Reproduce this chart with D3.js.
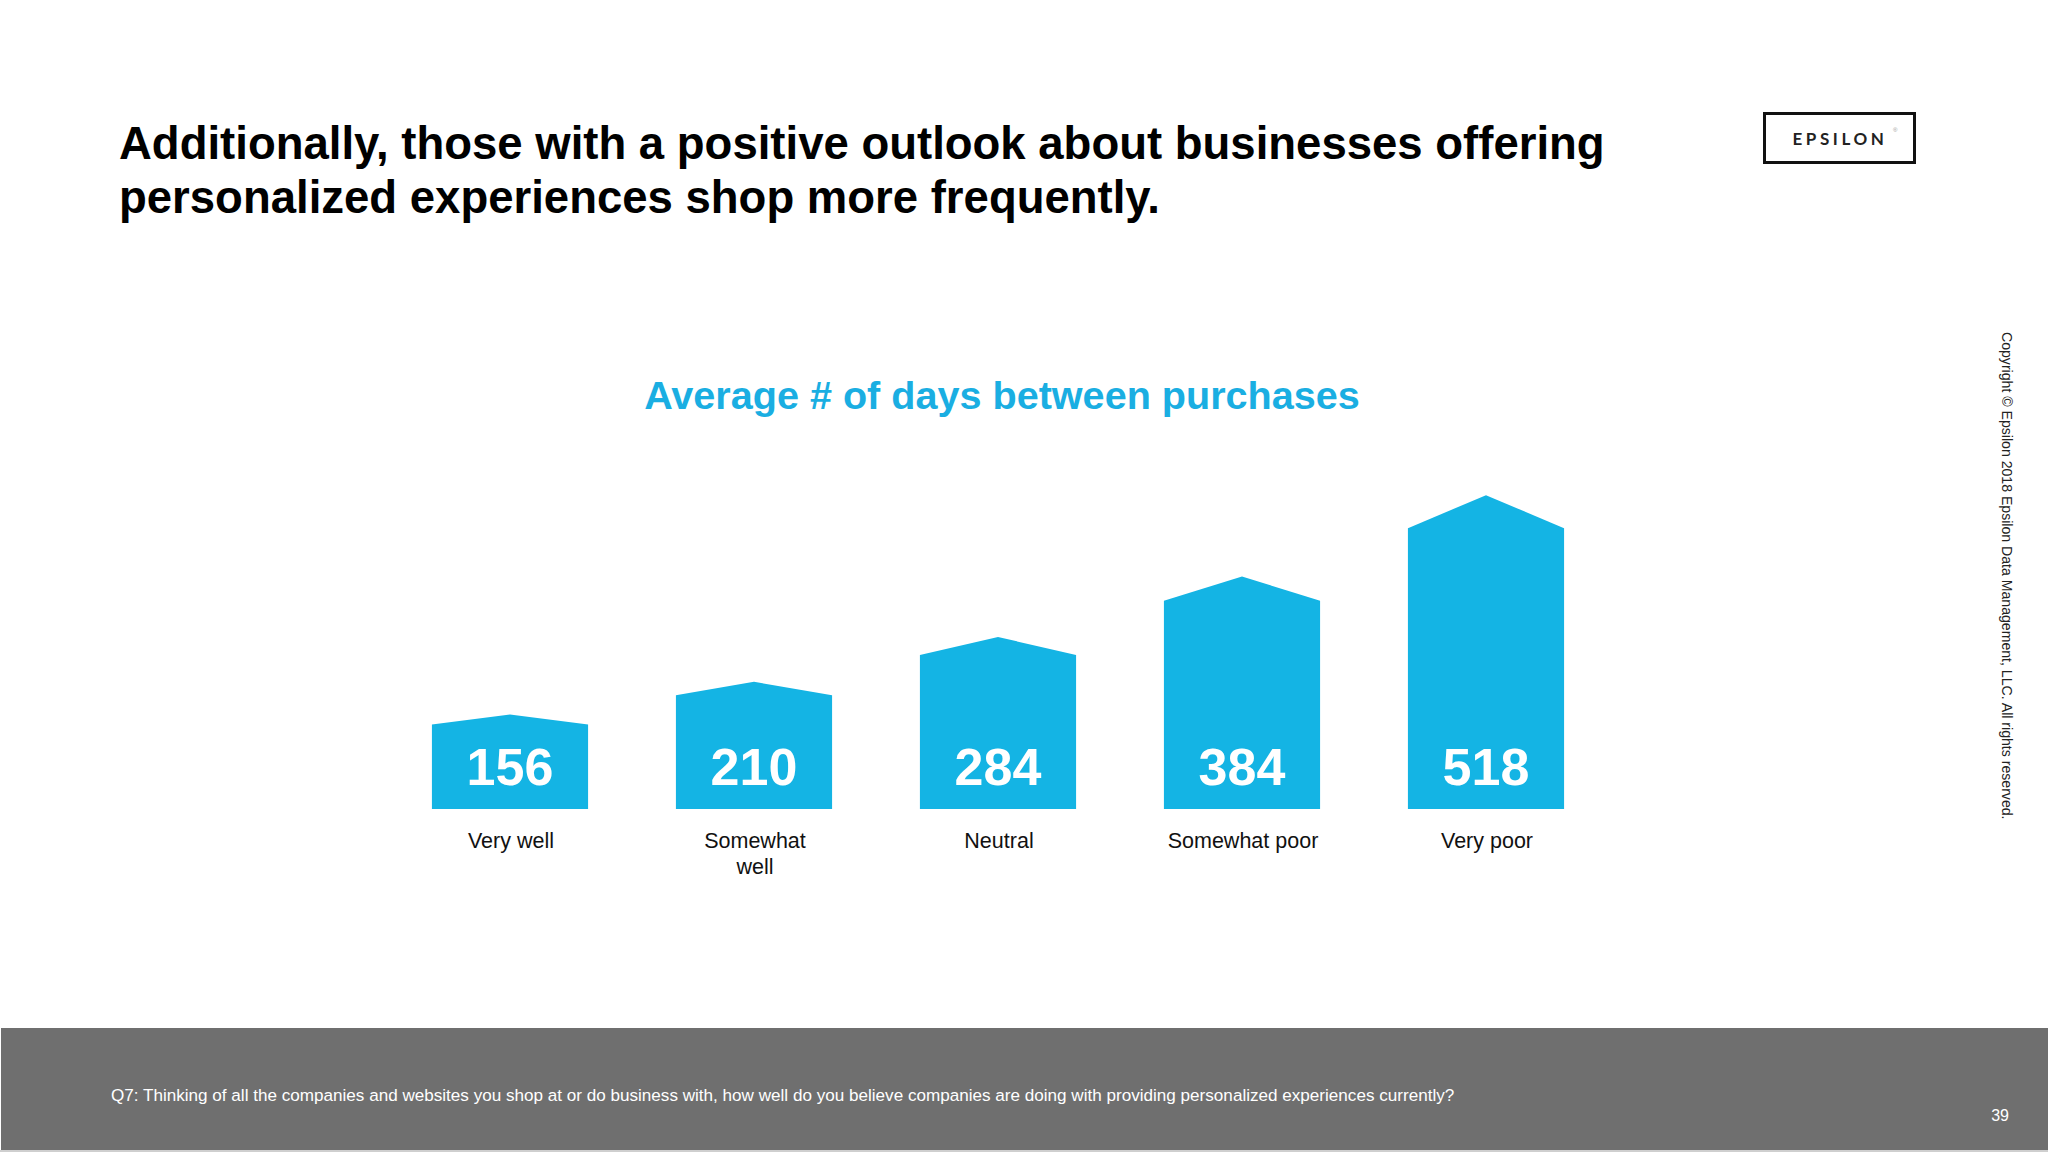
<!DOCTYPE html>
<html>
<head>
<meta charset="utf-8">
<script src="https://cdn.jsdelivr.net/npm/d3@7"></script>
<style>
  body { margin: 0; background: #fff; }
  svg { display: block; font-family: "Liberation Sans", Arial, sans-serif; }
</style>
</head>
<body>
<div class="svg-container"></div>
<script>
// data
var categories = ["Very well", "Somewhat well", "Neutral", "Somewhat poor", "Very poor"];
var labelLines = [["Very well"], ["Somewhat", "well"], ["Neutral"], ["Somewhat poor"], ["Very poor"]];
var avgDays = [156, 210, 284, 384, 518];

var titleLines = [
    "Additionally, those with a positive outlook about businesses offering",
    "personalized experiences shop more frequently."
];
var chartTitle = "Average # of days between purchases";
var footnote = "Q7: Thinking of all the companies and websites you shop at or do business with, how well do you believe companies are doing with providing personalized experiences currently?";
var copyright = "Copyright \u00a9 Epsilon 2018 Epsilon Data Management, LLC. All rights reserved.";
var pageNumber = "39";

var width = 2048,
    height = 1152;

var blue = "#14b4e4";

var svg = d3.select(".svg-container")
    .append("svg")
    .attr("width", width)
    .attr("height", height)
    .attr("viewBox", `0 0 ${width} ${height}`);

// headline
svg.append("text")
    .attr("x", 119)
    .attr("y", 159)
    .attr("font-size", 45.5)
    .attr("font-weight", "bold")
    .attr("fill", "#000")
    .selectAll("tspan")
    .data(titleLines)
    .enter().append("tspan")
        .attr("x", 119)
        .attr("dy", (d, i) => i == 0 ? 0 : 54)
        .text(d => d);

// logo
var logo = svg.append("g").attr("transform", "translate(1763, 112)");
logo.append("rect")
    .attr("x", 1.5)
    .attr("y", 1.5)
    .attr("width", 150)
    .attr("height", 49)
    .attr("fill", "none")
    .attr("stroke", "#111")
    .attr("stroke-width", 3);
logo.append("text")
    .attr("x", 77)
    .attr("y", 32.5)
    .attr("text-anchor", "middle")
    .attr("font-family", "Lato, 'Liberation Sans', sans-serif")
    .attr("font-weight", "bold")
    .attr("font-size", 17)
    .attr("letter-spacing", 3.6)
    .attr("fill", "#222")
    .text("EPSILON");
logo.append("text")
    .attr("x", 130)
    .attr("y", 20)
    .attr("font-size", 6)
    .attr("fill", "#999")
    .text("\u00ae");

// chart title
svg.append("text")
    .attr("x", 1002)
    .attr("y", 409)
    .attr("text-anchor", "middle")
    .attr("font-size", 39.6)
    .attr("font-weight", "bold")
    .attr("fill", "#1aaee2")
    .text(chartTitle);

// scales
var bottom = 809;

var xScale = d3.scaleBand()
    .domain(categories)
    .range([388, 1608])
    .paddingInner(0.36)
    .paddingOuter(0.18);

var yScale = d3.scaleLinear()
    .domain([0, 520])
    .range([bottom, 494]);

var roofShare = 0.105;

function housePath(d, i) {
    var x0 = xScale(categories[i]),
        x1 = x0 + xScale.bandwidth(),
        cx = x0 + xScale.bandwidth() / 2,
        peak = yScale(d),
        shoulder = peak + (bottom - peak) * roofShare;
    return d3.line()([[x0, bottom], [x0, shoulder], [cx, peak], [x1, shoulder], [x1, bottom]]) + "Z";
}

var bars = svg.append("g").attr("class", "bars");

bars.selectAll("path")
    .data(avgDays)
    .enter().append("path")
    .attr("d", housePath)
    .attr("fill", blue);

bars.selectAll(".value")
    .data(avgDays)
    .enter().append("text")
    .attr("class", "value")
    .attr("x", (d, i) => xScale(categories[i]) + xScale.bandwidth() / 2)
    .attr("y", 785)
    .attr("text-anchor", "middle")
    .attr("font-size", 52)
    .attr("font-weight", "bold")
    .attr("fill", "#fff")
    .text(d => d);

// category labels
var labels = svg.append("g").attr("class", "labels");

labels.selectAll("text")
    .data(labelLines)
    .enter().append("text")
    .attr("text-anchor", "middle")
    .attr("font-size", 21.5)
    .attr("fill", "#111")
    .each(function(lines, i) {
        var cx = xScale(categories[i]) + xScale.bandwidth() / 2;
        d3.select(this).selectAll("tspan")
            .data(lines)
            .enter().append("tspan")
            .attr("x", cx + 1)
            .attr("y", (d, j) => 848 + j * 26)
            .text(d => d);
    });

// copyright, vertical on the right
svg.append("text")
    .attr("transform", "translate(2002, 332) rotate(90)")
    .attr("font-size", 14.1)
    .attr("fill", "#222")
    .text(copyright);

// footer band
svg.append("rect")
    .attr("x", 1)
    .attr("y", 1028)
    .attr("width", width - 1)
    .attr("height", height - 1028)
    .attr("fill", "#6f6f6f");

svg.append("rect")
    .attr("x", 0)
    .attr("y", height - 2)
    .attr("width", width)
    .attr("height", 2)
    .attr("fill", "#cfcfcf");

svg.append("text")
    .attr("x", 111)
    .attr("y", 1101)
    .attr("font-size", 17.1)
    .attr("fill", "#fff")
    .text(footnote);

svg.append("text")
    .attr("x", 2009)
    .attr("y", 1121)
    .attr("text-anchor", "end")
    .attr("font-size", 16)
    .attr("fill", "#fff")
    .text(pageNumber);
</script>
</body>
</html>
